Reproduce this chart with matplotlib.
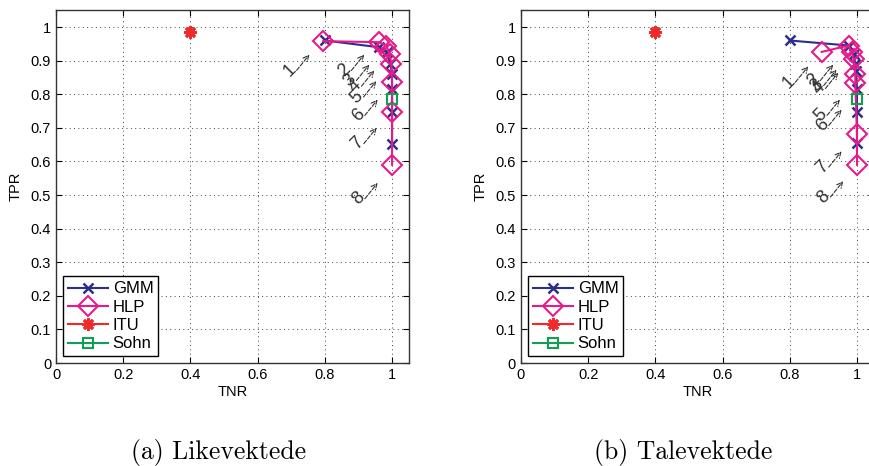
import matplotlib
matplotlib.use("Agg")
import matplotlib.pyplot as plt

# punkt 1..8 for hver metode, (TNR, TPR)
gmm_a_tnr = [0.80, 0.96, 0.985, 0.995, 1.0, 1.0, 1.0, 1.0]
gmm_a_tpr = [0.96, 0.94, 0.925, 0.89, 0.86, 0.815, 0.748, 0.652]
hlp_a_tnr = [0.795, 0.96, 0.983, 0.993, 0.998, 1.0, 1.0, 1.0]
hlp_a_tpr = [0.958, 0.955, 0.945, 0.92, 0.89, 0.835, 0.748, 0.59]

gmm_b_tnr = [0.80, 0.975, 0.99, 0.995, 0.997, 1.0, 1.0, 1.0]
gmm_b_tpr = [0.96, 0.945, 0.92, 0.89, 0.868, 0.817, 0.747, 0.655]
hlp_b_tnr = [0.895, 0.975, 0.985, 0.99, 0.995, 0.995, 1.0, 1.0]
hlp_b_tpr = [0.926, 0.945, 0.925, 0.905, 0.86, 0.833, 0.683, 0.59]

itu_tnr, itu_tpr = [0.40], [0.985]
sohn_tnr, sohn_tpr = [1.0], [0.785]

labels = ["1", "2", "3", "4", "5", "6", "7", "8"]
# tekstposisjon for nummerering
lab_a_x = [0.696, 0.859, 0.874, 0.889, 0.895, 0.899, 0.896, 0.899]
lab_a_y = [0.871, 0.871, 0.841, 0.824, 0.792, 0.737, 0.653, 0.489]
lab_b_x = [0.797, 0.871, 0.881, 0.886, 0.891, 0.896, 0.896, 0.901]
lab_b_y = [0.836, 0.841, 0.826, 0.817, 0.737, 0.707, 0.583, 0.494]

captions = ["(a) Likevektede", "(b) Talevektede"]

c_gmm = "#2b2f8c"
c_hlp = "#e8198b"
c_itu = "#ee2a2a"
c_sohn = "#12a050"

plt.rcParams["font.family"] = ["Liberation Sans", "DejaVu Sans"]

fig = plt.figure(figsize=(8.69, 4.66), dpi=100)
ax1 = fig.add_axes([0.0645, 0.221, 0.406, 0.757])
ax2 = fig.add_axes([0.5995, 0.221, 0.406, 0.757])


def draw(ax, gx, gy, hx, hy, lx, ly, cap, capx):
    ax.plot(gx, gy, "-x", color=c_gmm, lw=1.5, ms=7, mew=1.8, label="GMM")
    ax.plot(hx, hy, "-D", color=c_hlp, lw=1.5, ms=10.5, mew=1.5, mfc="none", label="HLP")
    ax.plot(itu_tnr, itu_tpr, ls="-", marker=(8, 2, 0), color=c_itu, lw=1.5, ms=9, mew=2, label="ITU")
    ax.plot(sohn_tnr, sohn_tpr, "-s", color=c_sohn, lw=1.5, ms=7.5, mew=1.5, mfc="none", label="Sohn")
    for t, x, y in zip(labels, lx, ly):
        ax.annotate("", xy=(x + 0.058, y + 0.047), xytext=(x + 0.02, y + 0.0),
                    arrowprops=dict(arrowstyle="->", ls="--", color="#333333", lw=0.8,
                                    shrinkA=0, shrinkB=0))
        ax.text(x, y, t, rotation=45, ha="center", va="center", fontsize=13, color="#333333")
    ax.set_xlim(0, 1.05)
    ax.set_ylim(0, 1.05)
    ax.set_xticks([0, 0.2, 0.4, 0.6, 0.8, 1])
    ax.set_xticklabels(["0", "0.2", "0.4", "0.6", "0.8", "1"])
    ax.set_yticks([i / 10 for i in range(11)])
    ax.set_yticklabels(["0"] + ["0.%d" % i for i in range(1, 10)] + ["1"])
    ax.tick_params(direction="in", top=True, right=True, labelsize=10.5, length=4)
    ax.grid(True, ls=(0, (1, 3.5)), color="#444444", lw=0.7)
    for s in ax.spines.values():
        s.set_linewidth(1.0)
        s.set_color("#333333")
    ax.set_xlabel("TNR", fontsize=10.5, labelpad=2)
    ax.set_ylabel("TPR", fontsize=10.5, labelpad=6)
    leg = ax.legend(loc="lower left", fontsize=12, fancybox=False, framealpha=1,
                    edgecolor="black", handlelength=2.4, borderpad=0.3,
                    labelspacing=0.2, handletextpad=0.3, borderaxespad=0.4)
    leg.get_frame().set_linewidth(1.0)
    fig.text(capx, 0.03, cap, ha="center", va="center", fontsize=18.5, family="cmr10")


draw(ax1, gmm_a_tnr, gmm_a_tpr, hlp_a_tnr, hlp_a_tpr, lab_a_x, lab_a_y, captions[0], 0.251)
draw(ax2, gmm_b_tnr, gmm_b_tpr, hlp_b_tnr, hlp_b_tpr, lab_b_x, lab_b_y, captions[1], 0.786)

fig.savefig("out.png", dpi=100)
